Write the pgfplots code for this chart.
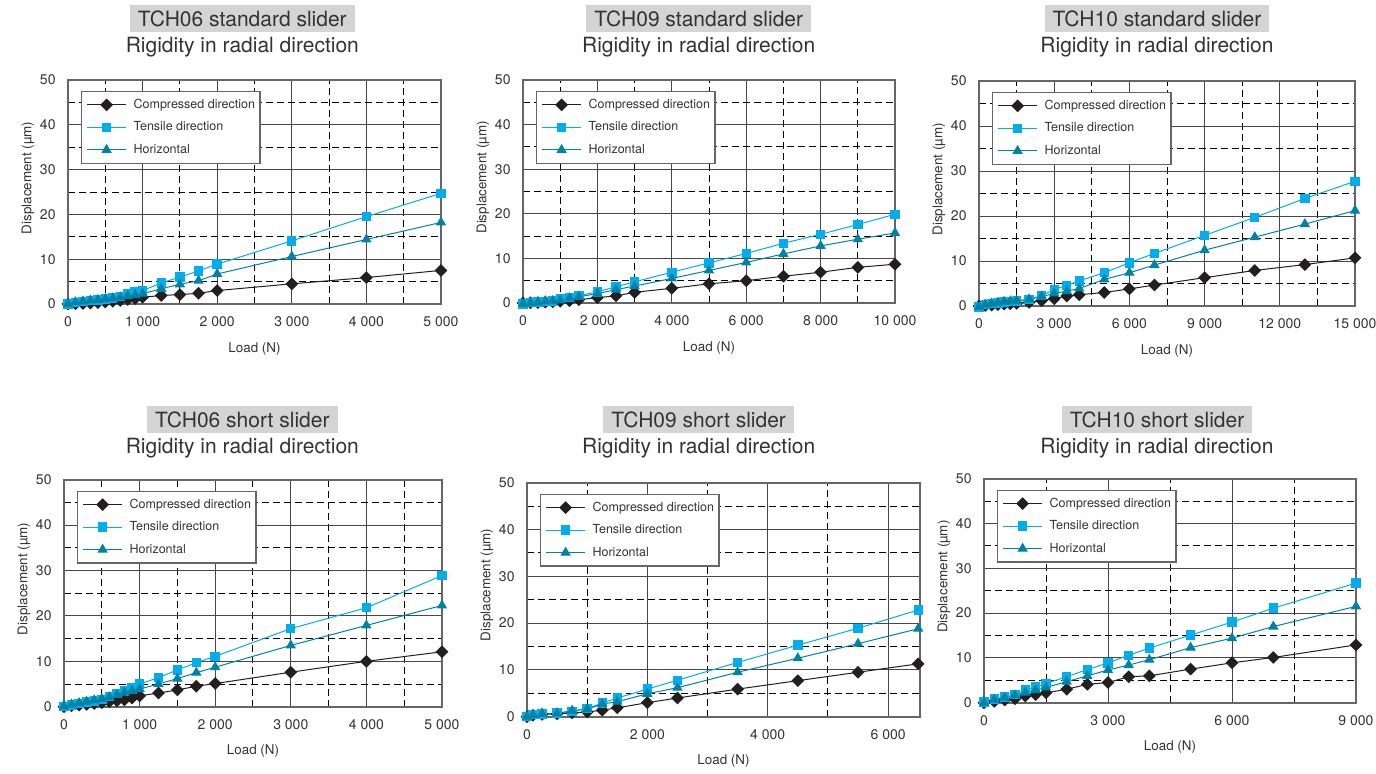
\documentclass[border=0pt]{standalone}
\usepackage{fontspec}
\setmainfont{TeX Gyre Heros}
\usepackage{pgfplots}
\pgfplotsset{compat=1.18}

\definecolor{cmp}{RGB}{35,31,32}
\definecolor{ten}{RGB}{0,174,239}
\definecolor{hor}{RGB}{0,130,166}
\definecolor{titlebg}{RGB}{212,212,212}
\definecolor{txt}{RGB}{51,51,51}

\pgfplotsset{
  rig/.style={
    scale only axis, anchor=south west, clip=false,
    xmin=0, ymin=0, ymax=50,
    ytick={0,10,...,50}, minor ytick={5,15,...,45},
    grid=both,
    major grid style={black!72, line width=0.5pt},
    minor grid style={black, line width=0.5pt, dash pattern=on 3.5pt off 2pt},
    axis line style={black!60, line width=0.8pt},
    major tick length=0pt, minor tick length=0pt,
    scaled x ticks=false,
    /pgf/number format/assume math mode=true,
    /pgf/number format/1000 sep={\ },
    ticklabel style={font=\fontsize{7}{8}\selectfont, text=txt},
    xticklabel style={yshift=-3pt},
    yticklabel style={xshift=-2.7pt},
    xlabel={Load (N)}, ylabel={Displacement (µm)},
    label style={font=\fontsize{6.7}{8}\selectfont, text=txt, inner sep=0pt},
    xlabel style={at={([yshift=-19pt]axis description cs:0.5,0)}, anchor=north},
    ylabel style={at={([xshift=-20pt]axis description cs:0,0.563)}, anchor=center},
    legend style={at={(0,1)}, anchor=north west, xshift=6.5pt, yshift=-5.5pt,
      draw=black!60, line width=0.6pt, inner xsep=2.5pt, inner ysep=3.75pt,
      row sep=5.45pt, font=\fontsize{6.25}{7}\selectfont, text=txt,
      cells={anchor=west},
      nodes={inner sep=0pt, text height=4.6pt, text depth=1.2pt},
      /tikz/every odd column/.append style={column sep=3.5pt}},
    legend image code/.code={\draw[mark repeat=2, mark phase=2, #1]
      plot coordinates {(0pt,0pt) (9.75pt,0pt) (19.5pt,0pt)};},
  },
  cmpst/.style={color=cmp, line width=0.5pt, mark=square*, mark size=2pt, mark options={rotate=45, solid}},
  tenst/.style={color=ten, line width=0.5pt, mark=square*, mark size=2.1pt, mark options={solid}},
  horst/.style={color=hor, line width=0.5pt, mark=triangle*, mark size=2.5pt, mark options={solid}},
}

\begin{document}
\begin{tikzpicture}
\useasboundingbox (0,0) rectangle (688pt,386.5pt);

% TCH06 standard
\begin{axis}[rig, at={(34pt,234.5pt)}, width=186.5pt, height=112pt,
  xmax=5000, xtick={0,1000,...,5000}, minor xtick={500,1500,...,4500}]
\addplot[cmpst] coordinates {(0,0)(100,0.05)(200,0.1)(300,0.2)(400,0.3)(500,0.45)(600,0.6)(700,0.8)(800,1.0)(900,1.2)(1000,1.5)(1250,1.9)(1500,2.1)(1750,2.4)(2000,3.0)(3000,4.5)(4000,5.9)(5000,7.5)};
\addplot[tenst] coordinates {(0,0)(100,0.35)(200,0.55)(300,0.75)(400,0.9)(500,1.1)(600,1.35)(700,1.7)(800,2.2)(900,2.7)(1000,3.0)(1250,4.7)(1500,6.0)(1750,7.4)(2000,8.9)(3000,14.1)(4000,19.5)(5000,24.7)};
\addplot[horst] coordinates {(0,0)(100,0.4)(200,0.6)(300,0.8)(400,0.9)(500,1.1)(600,1.3)(700,1.5)(800,1.8)(900,2.0)(1000,2.3)(1250,3.4)(1500,4.4)(1750,5.2)(2000,6.7)(3000,10.6)(4000,14.4)(5000,18.2)};
\legend{Compressed direction, Tensile direction, Horizontal}
\end{axis}

% TCH09 standard
\begin{axis}[rig, at={(261.5pt,235pt)}, width=186pt, height=111.5pt,
  xmax=10000, xtick={0,2000,...,10000}, minor xtick={1000,3000,...,9000}]
\addplot[cmpst] coordinates {(0,0)(200,0.05)(400,0.1)(600,0.2)(800,0.3)(1000,0.4)(1250,0.5)(1500,0.75)(2000,1.2)(2500,1.6)(3000,2.4)(4000,3.3)(5000,4.3)(6000,5.0)(7000,6.0)(8000,6.9)(9000,8.0)(10000,8.7)};
\addplot[tenst] coordinates {(0,-0.2)(200,0.05)(400,0.2)(600,0.4)(800,0.45)(1000,1.0)(1250,1.3)(1500,1.65)(2000,2.5)(2500,3.65)(3000,4.75)(4000,6.9)(5000,9.0)(6000,11.1)(7000,13.4)(8000,15.4)(9000,17.6)(10000,19.9)};
\addplot[horst] coordinates {(0,-0.2)(200,0)(400,0.15)(600,0.4)(800,0.4)(1000,0.6)(1250,1.1)(1500,1.4)(2000,2.1)(2500,3.0)(3000,3.8)(4000,5.5)(5000,7.3)(6000,9.1)(7000,11.0)(8000,12.8)(9000,14.3)(10000,15.7)};
\legend{Compressed direction, Tensile direction, Horizontal}
\end{axis}

% TCH10 standard
\begin{axis}[rig, at={(489.5pt,233.5pt)}, width=188pt, height=112.5pt,
  xmax=15000, xtick={0,3000,...,15000}, minor xtick={1500,4500,...,13500}]
\addplot[cmpst] coordinates {(0,0)(250,0.1)(500,0.2)(750,0.3)(1000,0.4)(1250,0.5)(1500,0.6)(2000,0.8)(2500,1.2)(3000,1.6)(3500,2.2)(4000,2.5)(5000,3.0)(6000,3.8)(7000,4.65)(9000,6.3)(11000,7.9)(13000,9.2)(15000,10.7)};
\addplot[tenst] coordinates {(0,-0.2)(250,0.3)(500,0.5)(750,0.7)(1000,0.85)(1250,1.0)(1500,1.1)(2000,1.4)(2500,2.3)(3000,3.65)(3500,4.6)(4000,5.6)(5000,7.4)(6000,9.6)(7000,11.7)(9000,15.7)(11000,19.7)(13000,23.9)(15000,27.7)};
\addplot[horst] coordinates {(0,-0.2)(250,0.3)(500,0.55)(750,0.75)(1000,0.95)(1250,1.05)(1500,1.15)(2000,1.5)(2500,2.1)(3000,2.8)(3500,3.3)(4000,3.9)(5000,5.9)(6000,7.4)(7000,9.1)(9000,12.4)(11000,15.3)(13000,18.2)(15000,21.2)};
\legend{Compressed direction, Tensile direction, Horizontal}
\end{axis}

% TCH06 short
\begin{axis}[rig, at={(32pt,33.15pt)}, width=189pt, height=113.5pt,
  xmax=5000, xtick={0,1000,...,5000}, minor xtick={500,1500,...,4500}]
\addplot[cmpst] coordinates {(0,0)(100,0.2)(200,0.35)(300,0.5)(400,0.7)(500,0.9)(600,1.1)(700,1.3)(800,1.5)(900,1.9)(1000,2.4)(1250,3.0)(1500,3.7)(1750,4.5)(2000,5.1)(3000,7.6)(4000,10.0)(5000,12.1)};
\addplot[tenst] coordinates {(0,0)(100,0.4)(200,0.7)(300,1.0)(400,1.3)(500,1.6)(600,2.2)(700,2.9)(800,3.6)(900,4.2)(1000,5.0)(1250,6.4)(1500,8.1)(1750,9.7)(2000,11.1)(3000,17.2)(4000,21.8)(5000,28.9)};
\addplot[horst] coordinates {(0,0.1)(100,0.5)(200,0.8)(300,1.1)(400,1.4)(500,1.7)(600,2.1)(700,2.6)(800,3.1)(900,3.5)(1000,3.9)(1250,5.0)(1500,6.2)(1750,7.5)(2000,8.7)(3000,13.5)(4000,17.9)(5000,22.3)};
\legend{Compressed direction, Tensile direction, Horizontal}
\end{axis}

% TCH09 short
\begin{axis}[rig, at={(263.5pt,28.15pt)}, width=196.5pt, height=117pt,
  xmax=6530, xtick={0,2000,4000,6000}, minor xtick={1000,3000,5000}]
\addplot[cmpst] coordinates {(0,0)(100,0.3)(250,0.5)(500,0.6)(750,0.8)(1000,1.0)(1250,1.4)(1500,1.9)(2000,3.0)(2500,4.0)(3500,5.9)(4500,7.7)(5500,9.5)(6500,11.3)};
\addplot[tenst] coordinates {(0,0)(100,0.5)(250,0.6)(500,0.8)(750,1.1)(1000,1.8)(1250,2.9)(1500,4.0)(2000,5.9)(2500,7.8)(3500,11.6)(4500,15.3)(5500,18.9)(6500,22.8)};
\addplot[horst] coordinates {(0,0)(100,0.4)(250,0.6)(500,0.7)(750,1.3)(1000,1.6)(1250,2.7)(1500,3.2)(2000,4.9)(2500,6.2)(3500,9.5)(4500,12.5)(5500,15.6)(6500,18.8)};
\legend{Compressed direction, Tensile direction, Horizontal}
\end{axis}

% TCH10 short
\begin{axis}[rig, at={(492pt,35.15pt)}, width=186pt, height=112pt,
  xmax=9000, xtick={0,3000,6000,9000}, minor xtick={1500,4500,7500}]
\addplot[cmpst] coordinates {(0,0)(250,0.3)(500,0.6)(750,0.9)(1000,1.5)(1250,1.8)(1500,2.2)(2000,3.0)(2500,4.1)(3000,4.5)(3500,5.8)(4000,6.0)(5000,7.5)(6000,8.9)(7000,10.1)(9000,12.9)};
\addplot[tenst] coordinates {(0,0.2)(250,0.8)(500,1.3)(750,1.8)(1000,2.8)(1250,3.5)(1500,4.3)(2000,5.8)(2500,7.4)(3000,8.9)(3500,10.6)(4000,12.2)(5000,15.1)(6000,18.0)(7000,21.1)(9000,26.7)};
\addplot[horst] coordinates {(0,0)(250,0.7)(500,1.15)(750,1.65)(1000,2.25)(1250,2.8)(1500,3.4)(2000,4.7)(2500,6.0)(3000,7.3)(3500,8.4)(4000,9.6)(5000,12.3)(6000,14.4)(7000,17.0)(9000,21.5)};
\legend{Compressed direction, Tensile direction, Horizontal}
\end{axis}

% titles
\tikzset{tbox/.style={fill=titlebg, text=txt, font=\fontsize{10.5}{12}\selectfont,
    inner xsep=4pt, inner ysep=0pt, minimum height=13.5pt, text height=7.6pt, text depth=0pt},
  tsub/.style={text=txt, font=\fontsize{10.5}{12}\selectfont, inner sep=0pt}}
\node[tbox] at (121.15pt,377.25pt) {TCH06 standard slider};
\node[tsub] at (121.15pt,363.15pt) {Rigidity in radial direction};
\node[tbox] at (349.35pt,377.25pt) {TCH09 standard slider};
\node[tsub] at (349.35pt,363.15pt) {Rigidity in radial direction};
\node[tbox] at (578.5pt,377.25pt) {TCH10 standard slider};
\node[tsub] at (578.5pt,363.15pt) {Rigidity in radial direction};
\node[tbox] at (121.15pt,176.8pt) {TCH06 short slider};
\node[tsub] at (121.15pt,162.65pt) {Rigidity in radial direction};
\node[tbox] at (349.35pt,176.8pt) {TCH09 short slider};
\node[tsub] at (349.35pt,162.65pt) {Rigidity in radial direction};
\node[tbox] at (578.5pt,176.8pt) {TCH10 short slider};
\node[tsub] at (578.5pt,162.65pt) {Rigidity in radial direction};
\end{tikzpicture}
\end{document}
